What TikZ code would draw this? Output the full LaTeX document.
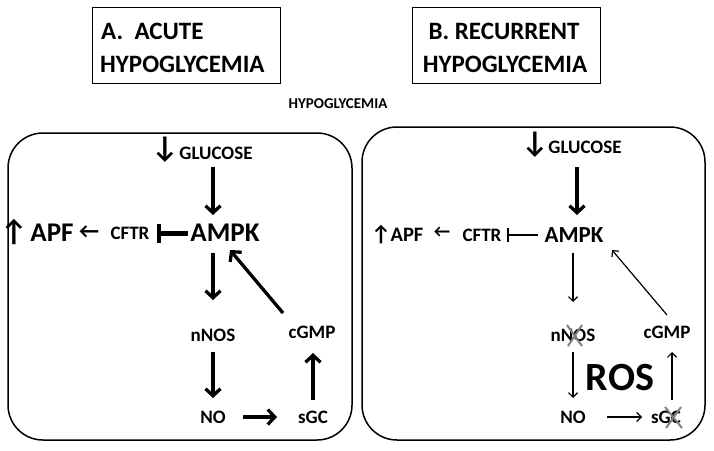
\documentclass[tikz,border=0pt]{standalone}
\usepackage{fontspec}
\setmainfont{Carlito}
\usetikzlibrary{arrows.meta}
\newcommand{\fs}[1]{\fontsize{#1}{#1}\selectfont}
\begin{document}
\begin{tikzpicture}[x=1pt,y=-1pt,
  lbl/.style={inner sep=0pt,font=\bfseries\fs{19}},
  big/.style={inner sep=0pt,font=\bfseries\fs{27}},
  glyph/.style={inner sep=0pt,font=\bfseries\fs{#1}},
  ttl/.style={inner sep=0pt,font=\bfseries\fs{25}},
  panel/.style={draw,line width=1.5pt,rounded corners=35pt},
  titlebox/.style={draw,line width=0.8pt,minimum width=188pt,minimum height=76pt,inner sep=0pt},
  thickarr/.style={line width=3.3pt,-{Straight Barb[length=7pt,width=15pt]}},
  thinarr/.style={line width=1.2pt,-{Straight Barb[length=4.5pt,width=9pt]}},
  inhA/.style={line width=5pt,-{Bar[width=19pt,line width=4pt]}},
  inhB/.style={line width=1.6pt,-{Bar[width=14pt,line width=2pt]}},
  xmark/.style={draw=gray,line width=2pt}]
\useasboundingbox (0,0) rectangle (714,450);

% titles
\node[titlebox] (tA) at (186.5,45) {};
\node[ttl,anchor=base west] (tA1) at (101,39) {A.\ \ ACUTE};
\node[ttl,anchor=base west] (tA2) at (100,72) {HYPOGLYCEMIA};
\node[titlebox] (tB) at (506.5,45) {};
\node[ttl,anchor=base] (tB1) at (504,39) {B. RECURRENT};
\node[ttl,anchor=base] (tB2) at (505,72) {HYPOGLYCEMIA};
\node[inner sep=0pt,font=\bfseries\fs{15}] (hyp) at (338,104) {HYPOGLYCEMIA};

% panels
\draw[panel] (8,133) rectangle (352,440);
\draw[panel] (362,127) rectangle (705,440);

% ---- panel A ----
\node[glyph=30] (dA) at (165,150) {↓};
\node[lbl] (gluA) at (216,153) {GLUCOSE};
\node[big] (ampkA) at (225,233) {AMPK};
\node[lbl] (cftrA) at (130,233) {CFTR};
\node[big] (apfA) at (52,233) {APF};
\node[glyph=30] (uA) at (14,232) {↑};
\node[glyph=22] (lA) at (89,232) {←};
\node[lbl] (nnosA) at (213,335) {nNOS};
\node[lbl] (noA) at (213,417) {NO};
\node[lbl] (sgcA) at (313,417) {sGC};
\node[lbl] (cgmpA) at (312,332) {cGMP};

\draw[thickarr] ([shift={(-3,14)}]gluA.center) -- ([shift={(-12,-18)}]ampkA.center);
\draw[thickarr] ([shift={(-12,20)}]ampkA.center) -- ([shift={(0,-35)}]nnosA.center);
\draw[thickarr] ([shift={(0,17)}]nnosA.center) -- ([shift={(0,-19)}]noA.center);
\draw[thickarr] ([shift={(30,0)}]noA.center) -- ([shift={(-36,0)}]sgcA.center);
\draw[thickarr] ([shift={(0,-17)}]sgcA.center) -- ([shift={(1,21)}]cgmpA.center);
\draw[thickarr] ([shift={(-29,-19)}]cgmpA.center) -- ([shift={(5,17)}]ampkA.center);
\draw[inhA] ([shift={(-37,0)}]ampkA.center) -- ([shift={(27,0)}]cftrA.center);

% ---- panel B ----
\node[glyph=30] (dB) at (535,145) {↓};
\node[lbl] (gluB) at (585,147) {GLUCOSE};
\node[inner sep=0pt,font=\bfseries\fs{23}] (ampkB) at (574,235) {AMPK};
\node[lbl] (cftrB) at (482,235) {CFTR};
\node[inner sep=0pt,font=\bfseries\fs{20.5}] (apfB) at (407,235) {APF};
\node[glyph=22] (uB) at (381,235) {↑};
\node[glyph=18] (lB) at (442,232) {←};
\node[lbl] (nnosB) at (573,335) {nNOS};
\node[lbl] (noB) at (573,417) {NO};
\node[lbl] (sgcB) at (666,417) {sGC};
\node[lbl] (cgmpB) at (667,332) {cGMP};
\node[inner sep=0pt,font=\bfseries\fs{40}] (ros) at (620,378) {ROS};

\draw[thickarr] ([shift={(-8,20)}]gluB.center) -- ([shift={(3,-20)}]ampkB.center);
\draw[thinarr] ([shift={(-1,18)}]ampkB.center) -- ([shift={(0,-33)}]nnosB.center);
\draw[thinarr] ([shift={(0,17)}]nnosB.center) -- ([shift={(0,-19)}]noB.center);
\draw[thinarr] ([shift={(34,0)}]noB.center) -- ([shift={(-24,0)}]sgcB.center);
\draw[thinarr] ([shift={(6,-17)}]sgcB.center) -- ([shift={(5,20)}]cgmpB.center);
\draw[thinarr] ([shift={(0,-17)}]cgmpB.center) -- ([shift={(38,15)}]ampkB.center);
\draw[inhB] ([shift={(-36,0)}]ampkB.center) -- ([shift={(25,0)}]cftrB.center);

% gray crosses
\draw[xmark] ([shift={(-6,-10)}]nnosB.center) -- ([shift={(9,11)}]nnosB.center);
\draw[xmark] ([shift={(9,-10)}]nnosB.center) -- ([shift={(-5,11)}]nnosB.center);
\draw[xmark] ([shift={(-1,-10)}]sgcB.center) -- ([shift={(16,11)}]sgcB.center);
\draw[xmark] ([shift={(15,-10)}]sgcB.center) -- ([shift={(0,11)}]sgcB.center);
\end{tikzpicture}
\end{document}
